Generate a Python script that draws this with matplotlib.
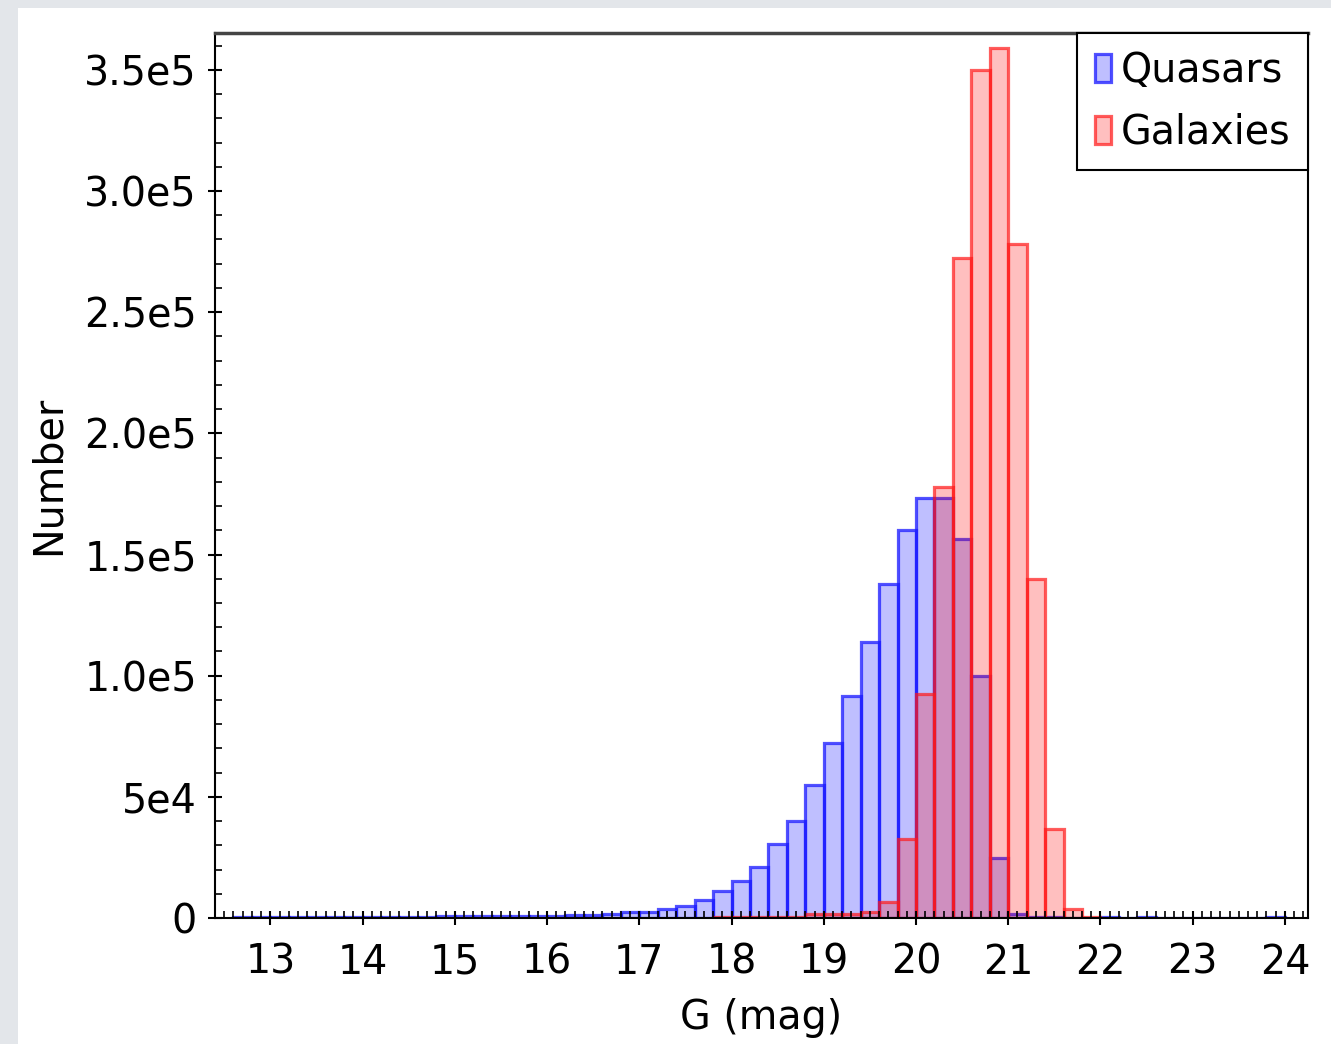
import matplotlib
matplotlib.use("Agg")
import matplotlib.pyplot as plt
from matplotlib.patches import Rectangle
from matplotlib.ticker import FixedLocator, MultipleLocator
import numpy as np

plt.rcParams['font.family'] = ['DejaVu Sans']

# G magnitude histogram, 0.2 mag bins starting at 12.6
bin_width = 0.2
quasar_start = 12.6
quasar_counts = [300, 300, 350, 350, 400, 400, 450, 500, 500, 550,
                 600, 650, 700, 750, 800, 850, 900, 1000, 1100, 1200,
                 1500, 2350, 2500, 3700, 5100, 7400, 11100, 15300, 21200, 30400,
                 40000, 54900, 72300, 91700, 114000, 137700, 160100, 173200, 173200, 156300,
                 99900, 24900, 1500, 500, 500, 0, 0, 500, 0, 500,
                 0, 0, 0, 0, 0, 0, 500]
galaxy_start = 17.8
galaxy_counts = [400, 400, 400, 500, 500, 1500, 1500, 1500, 2400, 6700,
                 32600, 92400, 177800, 272300, 350000, 358900, 278200, 139900, 36700, 3600,
                 600]

y_ticks = [0, 5e4, 1e5, 1.5e5, 2e5, 2.5e5, 3e5, 3.5e5]
y_ticklabels = ['0', '5e4', '1.0e5', '1.5e5', '2.0e5', '2.5e5', '3.0e5', '3.5e5']
x_ticks = list(range(13, 25))

W, H = 1331, 1044
fs = 28.5
fig = plt.figure(figsize=(W / 100, H / 100), dpi=100, facecolor='#e3e6ea')
fig.patches.append(Rectangle((18 / W, 0), 1, (H - 8) / H, transform=fig.transFigure,
                             facecolor='white', edgecolor='none', zorder=-10))
ax = fig.add_axes([215 / W, 126 / H, (1308 - 215) / W, (918 - 33) / H])

q_left = quasar_start + bin_width * np.arange(len(quasar_counts))
g_left = galaxy_start + bin_width * np.arange(len(galaxy_counts))
ax.bar(q_left, quasar_counts, width=bin_width, align='edge',
       facecolor=(0, 0, 1, 0.25), edgecolor=(0.1, 0.1, 1, 0.75), linewidth=2.3, label='Quasars')
ax.bar(g_left, galaxy_counts, width=bin_width, align='edge',
       facecolor=(1, 0, 0, 0.25), edgecolor=(1, 0.1, 0.1, 0.7), linewidth=2.3, label='Galaxies')

ax.set_xlim(12.4, 24.25)
ax.set_ylim(0, 3.652e5)
ax.yaxis.set_major_locator(FixedLocator(y_ticks))
ax.set_yticklabels(y_ticklabels)
ax.yaxis.set_minor_locator(MultipleLocator(1e4))
ax.xaxis.set_major_locator(FixedLocator(x_ticks))
ax.xaxis.set_minor_locator(MultipleLocator(0.1))
ax.tick_params(which='major', direction='inout', length=10, width=1.5, labelsize=fs)
ax.tick_params(axis='y', which='major', pad=8)
ax.tick_params(axis='x', which='major', pad=13)
ax.tick_params(which='minor', direction='in', length=5, width=1.2)
for side in ['left', 'bottom', 'right', 'top']:
    ax.spines[side].set_linewidth(1.5)
ax.spines['top'].set_color('#444444')
ax.spines['top'].set_linewidth(2.5)

ax.set_xlabel('G (mag)', fontsize=fs, labelpad=11)
ax.set_ylabel('Number', fontsize=fs, labelpad=11)

leg = ax.legend(loc='upper right', borderaxespad=0, fontsize=fs, fancybox=False,
                edgecolor='black', framealpha=1, handlelength=0.4, handleheight=0.7,
                handletextpad=0.25, labelspacing=0.55, borderpad=0.45)
leg.get_frame().set_linewidth(1.5)

fig.savefig('out.png', dpi=100, facecolor=fig.get_facecolor())
